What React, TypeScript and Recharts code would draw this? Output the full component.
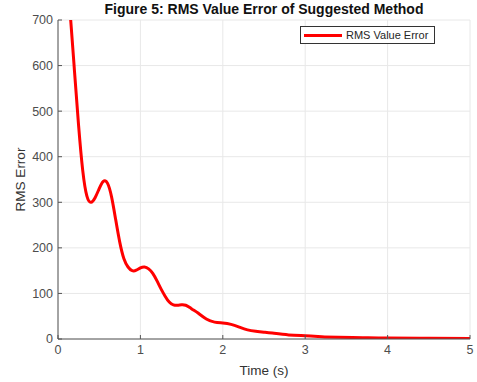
import React from 'react';
import { LineChart, Line, XAxis, YAxis, CartesianGrid } from 'recharts';

// Time samples (s) and RMS error values of the suggested method
const TIME = [
  0.1, 0.15, 0.2, 0.25, 0.3, 0.35, 0.4, 0.45, 0.5, 0.55, 0.6, 0.65, 0.7, 0.75, 0.8, 0.85, 0.9, 0.95,
  1.0, 1.05, 1.1, 1.15, 1.2, 1.25, 1.3, 1.35, 1.4, 1.45, 1.5, 1.55, 1.6, 1.65, 1.7, 1.8, 1.9, 2.0,
  2.1, 2.2, 2.3, 2.4, 2.5, 2.6, 2.8, 3.0, 3.2, 3.4, 3.7, 4.0, 4.5, 5.0,
];
const RMS_ERROR = [
  820, 710, 588, 468, 370, 314, 300, 310, 330, 346, 342, 312, 262, 212, 176, 158, 150, 151,
  156, 158, 154, 144, 128, 110, 94, 81, 75, 74, 75, 74, 69, 63, 57, 44, 37, 35,
  32, 26, 20, 17, 15, 13, 9, 7, 5, 4, 3, 2, 1.5, 1,
];
const X_TICKS = [0, 1, 2, 3, 4, 5];
const Y_TICKS = [0, 100, 200, 300, 400, 500, 600, 700];

const TITLE = 'Figure 5: RMS Value Error of Suggested Method';
const SERIES_NAME = 'RMS Value Error';

const data = TIME.map((t, i) => ({ t, v: RMS_ERROR[i] }));

const FONT = '"Liberation Sans", Arial, Helvetica, sans-serif';
const AXIS = '#555555';
const TICK = { fontSize: 12.5, fill: '#4d4d4d', fontFamily: FONT };

export default function App() {
  return (
    <div style={{ position: 'absolute', left: 0, top: 0, width: 477, height: 382, background: '#fff', fontFamily: FONT }}>
      <div
        style={{
          position: 'absolute', left: 58, width: 412, top: 1, textAlign: 'center',
          fontSize: 14, fontWeight: 'bold', color: '#111',
        }}
      >
        {TITLE}
      </div>
      <LineChart width={477} height={382} data={data} margin={{ top: 20, right: 7, bottom: 0, left: 0 }}>
        <CartesianGrid stroke="#e8e8e8" strokeWidth={1} />
        <XAxis
          dataKey="t" type="number" domain={[0, 5]} ticks={X_TICKS} allowDataOverflow
          height={43} stroke={AXIS} tick={TICK} tickSize={-4} tickMargin={10}
          label={{ value: 'Time (s)', position: 'insideBottom', offset: 7, fontSize: 13.5, fill: '#333', fontFamily: FONT }}
        />
        <XAxis
          xAxisId="top" orientation="top" type="number" domain={[0, 5]} ticks={X_TICKS}
          height={0} stroke={AXIS} tick={false} tickSize={-4}
        />
        <YAxis
          type="number" domain={[0, 700]} ticks={Y_TICKS} allowDataOverflow
          width={58} stroke={AXIS} tick={TICK} tickSize={-4} tickMargin={9}
          label={{ value: 'RMS Error', angle: -90, position: 'center', dx: -9, fontSize: 13.5, fill: '#333', fontFamily: FONT }}
        />
        <YAxis
          yAxisId="right" orientation="right" type="number" domain={[0, 700]} ticks={Y_TICKS}
          width={0} stroke={AXIS} tick={false} tickSize={-4}
        />
        <Line
          dataKey="v" type="natural" stroke="#ff0000" strokeWidth={3}
          dot={false} activeDot={false} isAnimationActive={false}
        />
      </LineChart>
      <div
        style={{
          position: 'absolute', left: 300, top: 26, width: 135, height: 18, boxSizing: 'border-box',
          border: '1px solid #333', background: '#fff', display: 'flex', alignItems: 'center',
        }}
      >
        <div style={{ width: 38, height: 3, background: '#ff0000', marginLeft: 3, marginRight: 4 }} />
        <span style={{ fontSize: 11, color: '#262626' }}>{SERIES_NAME}</span>
      </div>
    </div>
  );
}
